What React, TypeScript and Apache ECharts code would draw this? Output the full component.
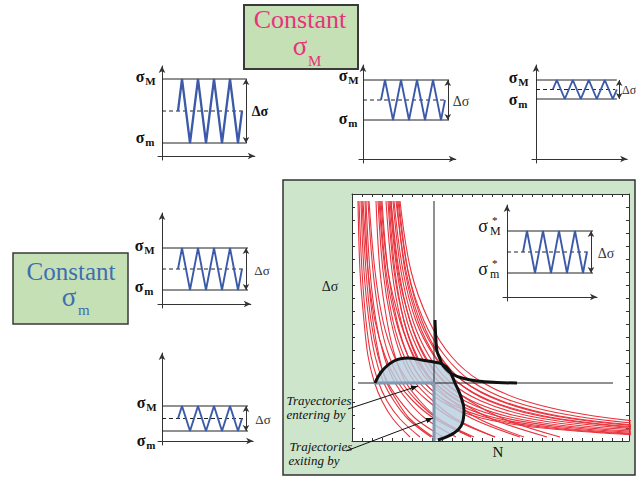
import React, { useEffect, useRef } from 'react';
import * as echarts from 'echarts';

// ---------- small waveform panels (P1..P5 and inset) ----------
const sigmaMax = [77, 79, 79, 56, 35, 66];
const sigmaMin = [13, 39, 60, 14, 10, 24];
const axisTopVal = [90, 94, 94, 91, 88, 92];
const axisEndT = [11.6, 11.6, 11.4, 11.1, 11.4, 11.25];
const waveStartT = [2.0, 2.25, 2.1, 2.0, 2.0, 2.0];
const refLineEndT = [10.6, 10.75, 10.1, 10.75, 10.75, 10.75];
const meanLineEndT = [10.1, 10.25, 9.9, 10.1, 10.4, 10.1];
const rangeArrowT = [10.5, 10.6, 10.4, 10.5, 10.5, 10.5];
const wavePhase = [0, 0.5, 1.5, 2.5, 3.5, 4.5, 5.5, 6.5, 7.5, 8];
const waveLevel = ['mean', 'max', 'min', 'max', 'min', 'max', 'min', 'max', 'min', 'mean'];

// ---------- trajectories plot (N vs Δσ) ----------
const steepLevels = [240, 170, 120, 85, 60, 40, 22, 4];
const steepCurves = [
  [6, 8, 12, 16, 22, 30, 41, 58],
  [7, 10, 14, 19, 26, 35, 48, 68],
  [9, 12, 17, 23, 31, 42, 56, 79],
  [10, 14, 19, 26, 35, 48, 64, 91],
  [13, 16, 21, 27, 34, 45, 58, 81],
  [14, 18, 24, 32, 42, 56, 74, 104],
  [16, 21, 28, 37, 49, 65, 86, 122],
  [17, 23, 31, 42, 56, 76, 101, 143],
  [24, 28, 35, 43, 53, 68, 87, 119],
  [26, 31, 39, 49, 62, 81, 104, 143],
  [28, 34, 44, 56, 71, 93, 121, 168],
  [29, 36, 48, 62, 81, 107, 140, 195],
  [37, 43, 52, 64, 79, 100, 127, 172],
  [39, 47, 58, 73, 92, 118, 152, 208],
  [11, 16, 23, 33, 45, 61, 83, 119],
];
const flatLevels = [240, 170, 120, 85, 60, 40, 25, 15, 8, 4];
const flatCurves = [
  [48, 59, 77, 99, 128, 173, 242, 344, 504, 675],
  [46, 56, 72, 93, 119, 160, 223, 316, 462, 618],
  [44, 54, 68, 87, 111, 150, 207, 294, 428, 572],
  [42, 51, 64, 82, 104, 139, 192, 271, 394, 526],
  [41, 49, 61, 77, 97, 129, 177, 249, 361, 481],
  [39, 46, 58, 72, 91, 120, 165, 231, 335, 446],
  [38, 45, 55, 69, 86, 113, 154, 215, 310, 412],
  [36, 42, 52, 65, 81, 106, 145, 202, 292, 388],
  [34, 40, 49, 61, 76, 100, 136, 190, 274, 364],
  [30, 36, 45, 56, 71, 94, 129, 181, 262, 349],
  [27, 33, 41, 52, 66, 89, 122, 173, 251, 335],
  [47, 56, 70, 88, 111, 148, 203, 286, 415, 553],
  [45, 53, 66, 83, 104, 137, 188, 263, 381, 507],
];
const lensN = [23, 30, 42, 56, 70, 82, 90, 97, 103, 109, 112, 110, 102, 86];
const lensD = [58, 70, 80, 83, 81, 79, 77, 71, 58, 44, 31, 17, 8, 1];
const boundN = [83, 84, 85, 88, 90, 94, 100, 110, 125, 145, 165];
const boundD = [121, 100, 90, 82, 77, 72, 67, 63, 60, 58.5, 58];
const criticalN = 82;
const criticalD = 58;
const plotTopD = 240;
const thresholdLineN = [6, 261];
const enterStartN = 22;

// ---------- layout (pixels) ----------
const panelOrigin = [[162, 156], [363, 159], [536, 159], [162, 304], [162, 441], [507, 297]];
const XS = 8;
const FAMILY = 'Liberation Serif';

type TOpts = { weight?: string; italic?: boolean; align?: string; fill?: string };
function txt(s: string, x: number, y: number, size: number, o: TOpts = {}) {
  const align = o.align || 'center';
  return {
    type: 'text', z: 10, silent: true,
    style: {
      text: s, x, y, fontSize: size, fontFamily: FAMILY, fontWeight: o.weight || 'normal',
      fontStyle: o.italic ? 'italic' : 'normal', fill: o.fill || '#111',
      align, verticalAlign: 'middle',
    },
  };
}

function sigmaLabel(cx: number, base: number, sub: string, size: number, bold: boolean, star: boolean) {
  const weight = bold ? 'bold' : 'normal';
  const subSize = Math.round(size * 0.66);
  const subX = cx + size * 0.33;
  const out: any[] = [txt('σ', star ? cx - 1 : cx, base - size * 0.34, size, { weight })];
  if (star) {
    out.push({
      type: 'text', z: 10, silent: true,
      style: {
        text: `{a|*}\n{b|${sub}}`, x: subX, y: base + 5, align: 'left', verticalAlign: 'bottom', fill: '#111',
        rich: {
          a: { fontSize: 11, lineHeight: 11, fontFamily: FAMILY, fill: '#111', padding: [0, 0, 0, 2] },
          b: { fontSize: subSize, lineHeight: subSize, fontFamily: FAMILY, fill: '#111' },
        },
      },
    });
  } else {
    out.push(txt(sub, subX, base + 3 - subSize * 0.34, subSize, { weight, align: 'left' }));
  }
  return out;
}

function arrowHead(x1: number, y1: number, x2: number, y2: number, len = 7, w = 2.6) {
  const dx = x2 - x1, dy = y2 - y1, L = Math.hypot(dx, dy);
  const ux = dx / L, uy = dy / L;
  const bx = x2 - ux * len, by = y2 - uy * len;
  return [[x2, y2], [bx - uy * w, by + ux * w], [bx + uy * w, by - ux * w]];
}

function buildOption() {
  const grid: any[] = [];
  const xAxis: any[] = [];
  const yAxis: any[] = [];
  const series: any[] = [];
  const hidden = { axisTick: { show: false }, axisLabel: { show: false }, splitLine: { show: false } };

  for (let i = 0; i < 6; i++) {
    const [ox, oy] = panelOrigin[i];
    grid.push({ left: ox - 0.5 * XS, top: oy - axisTopVal[i], width: (axisEndT[i] + 0.5) * XS, height: axisTopVal[i] + 4 });
    const line = { show: true, onZero: true, symbol: ['none', 'arrow'], symbolSize: [5, 7], lineStyle: { color: '#333', width: 1 } };
    xAxis.push({ gridIndex: i, type: 'value', min: -0.5, max: axisEndT[i], axisLine: line, ...hidden });
    yAxis.push({ gridIndex: i, type: 'value', min: -4, max: axisTopVal[i], axisLine: line, ...hidden });
    const lv: any = { max: sigmaMax[i], min: sigmaMin[i], mean: (sigmaMax[i] + sigmaMin[i]) / 2 };
    const base = { type: 'line', xAxisIndex: i, yAxisIndex: i, symbol: 'none', silent: true, z: 3 };
    series.push({
      ...base, data: [[0, lv.max], [refLineEndT[i], lv.max]], lineStyle: { color: '#222', width: 1 },
      markLine: {
        silent: true, symbol: ['arrow', 'arrow'], symbolSize: [5, 6], label: { show: false },
        lineStyle: { color: '#333', width: 1, type: 'solid' },
        data: [[{ coord: [rangeArrowT[i], lv.min] }, { coord: [rangeArrowT[i], lv.max] }]],
      },
    });
    series.push({ ...base, data: [[0, lv.min], [refLineEndT[i], lv.min]], lineStyle: { color: '#222', width: 1 } });
    series.push({ ...base, data: [[0, lv.mean], [meanLineEndT[i], lv.mean]], lineStyle: { color: '#222', width: 1, type: [4, 3] } });
    series.push({
      ...base, z: 4,
      data: wavePhase.map((p, k) => [waveStartT[i] + p, lv[waveLevel[k]]]),
      lineStyle: { color: '#3b5aa8', width: i === 0 ? 2.3 : 1.9 },
    });
  }

  // big plot grid
  const G = 6;
  grid.push({ left: 352, top: 194, width: 277, height: 247 });
  const frame = { show: true, onZero: false, lineStyle: { color: '#333', width: 1 } };
  const tick = { show: true, inside: true, length: 3, lineStyle: { color: '#333', width: 1 } };
  const noLab = { axisLabel: { show: false }, splitLine: { show: false } };
  xAxis.push({ gridIndex: G, type: 'value', min: 0, max: 277, interval: 10, position: 'bottom', axisLine: frame, axisTick: tick, ...noLab });
  xAxis.push({ gridIndex: G, type: 'value', min: 0, max: 277, interval: 10, position: 'top', axisLine: frame, axisTick: tick, ...noLab });
  yAxis.push({ gridIndex: G, type: 'value', min: 0, max: 247, interval: 13, position: 'left', axisLine: frame, axisTick: tick, ...noLab });
  yAxis.push({ gridIndex: G, type: 'value', min: 0, max: 247, interval: 13, position: 'right', axisLine: frame, axisTick: tick, ...noLab });

  const bigBase = { type: 'line', xAxisIndex: G, yAxisIndex: G, symbol: 'none', silent: true, clip: true };
  const red = { color: '#e8323c', width: 1.1 };
  steepCurves.forEach((c) => series.push({ ...bigBase, z: 2, smooth: 0.35, data: c.map((n, k) => [n, steepLevels[k]]), lineStyle: red }));
  flatCurves.forEach((c) => series.push({ ...bigBase, z: 2, smooth: 0.35, data: c.map((n, k) => [n, flatLevels[k]]), lineStyle: red }));

  const shade = lensN.map((n, k) => [n, lensD[k]]).concat([[criticalN, lensD[lensD.length - 1]], [criticalN, criticalD]]);
  series.push({
    type: 'custom', xAxisIndex: G, yAxisIndex: G, silent: true, z: 3, data: [[0, 0]],
    renderItem: (_p: any, api: any) => ({
      type: 'polygon', shape: { points: shade.map((p) => api.coord(p)) },
      style: { fill: 'rgba(183,208,224,0.82)' },
    }),
  });
  series.push({ ...bigBase, z: 4, data: [[criticalN, 0], [criticalN, plotTopD]], lineStyle: { color: '#222', width: 1 } });
  series.push({ ...bigBase, z: 4, data: [[thresholdLineN[0], criticalD], [thresholdLineN[1], criticalD]], lineStyle: { color: '#222', width: 1 } });
  series.push({ ...bigBase, z: 4, data: [[enterStartN, criticalD], [criticalN, criticalD], [criticalN, 0]], lineStyle: { color: '#7d99b4', width: 3 } });
  series.push({ ...bigBase, z: 5, smooth: 0.4, data: boundN.map((n, k) => [n, boundD[k]]), lineStyle: { color: '#111', width: 3 } });
  series.push({ ...bigBase, z: 5, smooth: 0.4, data: lensN.map((n, k) => [n, lensD[k]]), lineStyle: { color: '#111', width: 3 } });

  // graphics: backgrounds, boxes, labels, arrows
  const g: any[] = [];
  g.push({ type: 'rect', z: -2, silent: true, shape: { x: 283, y: 180, width: 352, height: 295 }, style: { fill: '#cde5cb', stroke: '#333', lineWidth: 1.5 } });
  g.push({ type: 'rect', z: -1, silent: true, shape: { x: 352, y: 194, width: 277, height: 247 }, style: { fill: '#fff' } });
  g.push({ type: 'rect', z: -1, silent: true, shape: { x: 244, y: 5, width: 114, height: 64 }, style: { fill: '#c5e0b4', stroke: '#3a3a3a', lineWidth: 2 } });
  g.push({ type: 'rect', z: -1, silent: true, shape: { x: 13, y: 253, width: 115, height: 71 }, style: { fill: '#c5e0b4', stroke: '#3a3a3a', lineWidth: 1.5 } });

  const pink = '#e8337c';
  const blue = '#3f6db3';
  g.push(txt('Constant', 300, 19, 26, { fill: pink }));
  g.push(txt('σ', 300, 46, 27, { fill: pink }));
  g.push(txt('M', 308, 61, 15, { fill: pink, align: 'left' }));
  g.push(txt('Constant', 71, 271, 25, { fill: blue }));
  g.push(txt('σ', 69, 297, 27, { fill: blue }));
  g.push(txt('m', 78, 310, 15, { fill: blue, align: 'left' }));

  const labelSpec = [
    [140, 82, 143, 16, 1, 0],
    [343, 81, 124, 16, 1, 0],
    [513, 83, 105, 16, 1, 0],
    [139, 251, 292, 16, 1, 0],
    [141, 408, 446, 16, 1, 0],
    [484, 232, 275, 18, 0, 1],
  ];
  labelSpec.forEach(([cx, bM, bm, sz, bold, star]) => {
    g.push(...sigmaLabel(cx, bM, 'M', sz, !!bold, !!star));
    g.push(...sigmaLabel(cx, bm, 'm', sz, !!bold, !!star));
  });
  g.push(txt('Δσ', 260, 111, 14, { weight: 'bold' }));
  g.push(txt('Δσ', 461, 101, 14, { fill: '#333' }));
  g.push(txt('Δσ', 622, 90, 12, { fill: '#333', align: 'left' }));
  g.push(txt('Δσ', 262, 270, 13, { fill: '#333' }));
  g.push(txt('Δσ', 263, 419, 13, { fill: '#333' }));
  g.push(txt('Δσ', 606, 253, 14, { fill: '#333' }));
  g.push(txt('Δσ', 330, 286, 14, { fill: '#222' }));
  g.push(txt('N', 498, 452, 15));

  g.push(txt('Trayectories', 319, 400, 13, { italic: true }));
  g.push(txt('entering by', 316, 414, 13, { italic: true }));
  g.push(txt('Trajectories', 321, 446, 13, { italic: true }));
  g.push(txt('exiting by', 314, 460, 13, { italic: true }));

  const arrows = [[348, 409, 418, 386], [346, 451, 433, 418]];
  arrows.forEach(([x1, y1, x2, y2]) => {
    g.push({ type: 'line', z: 10, silent: true, shape: { x1, y1, x2, y2 }, style: { stroke: '#111', lineWidth: 1 } });
    g.push({ type: 'polygon', z: 10, silent: true, shape: { points: arrowHead(x1, y1, x2, y2) }, style: { fill: '#111' } });
  });

  return { animation: false, backgroundColor: '#fff', grid, xAxis, yAxis, series, graphic: { elements: g } };
}

export default function App() {
  const ref = useRef<HTMLDivElement>(null);
  useEffect(() => {
    const chart = echarts.init(ref.current!, null, { renderer: 'svg', width: 636, height: 477 });
    chart.setOption(buildOption() as any);
    return () => chart.dispose();
  }, []);
  return <div ref={ref} style={{ position: 'fixed', left: 0, top: 0, width: 636, height: 477, background: '#fff' }} />;
}
